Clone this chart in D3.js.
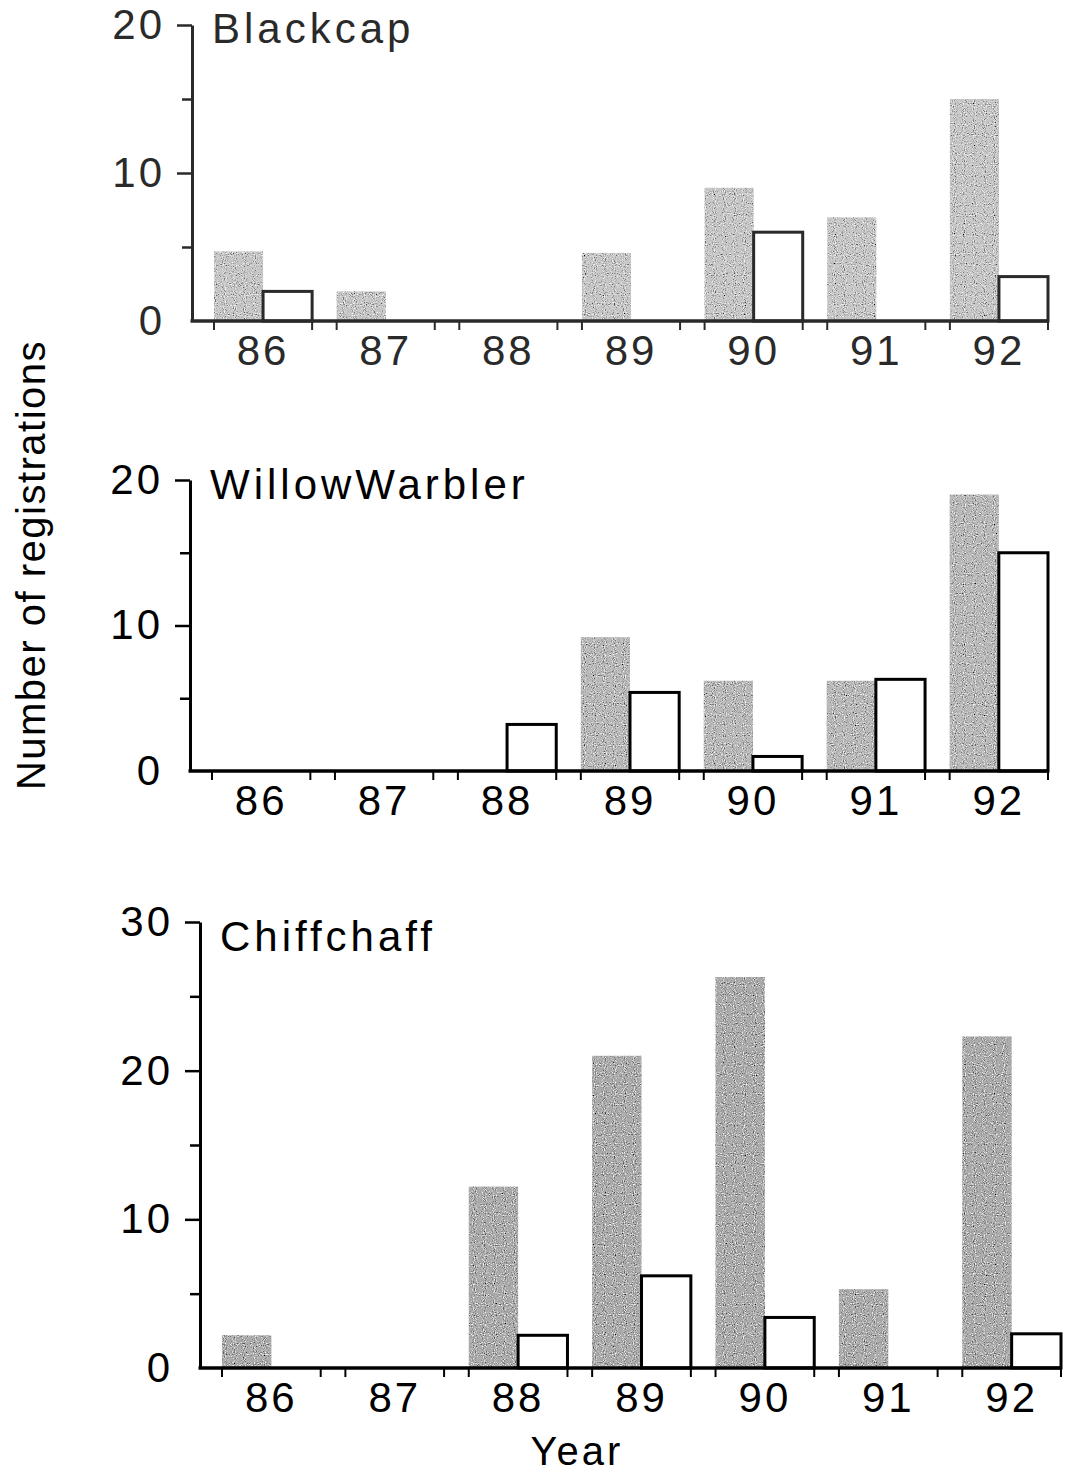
<!DOCTYPE html>
<html lang="en">
<head>
    <meta charset="UTF-8">
    <title>Number of registrations by year</title>
    <script src="https://d3js.org/d3.v7.min.js"></script>
    <style>
        body { margin: 0; background: #fff; }
        text { font-family: "Liberation Sans", Arial, sans-serif; }
    </style>
</head>
<body>
    <script>
        // years on the x axis
        const years = ["86", "87", "88", "89", "90", "91", "92"];

        // shaded bars and open bars, one value per year
        const blackcapShaded = [4.7, 2, 0, 4.6, 9, 7, 15];
        const blackcapOpen   = [2, 0, 0, 0, 6, 0, 3];
        const willowShaded   = [0, 0, 0, 9.2, 6.2, 6.2, 19];
        const willowOpen     = [0, 0, 3.2, 5.4, 1, 6.3, 15];
        const chiffShaded    = [2.2, 0, 12.2, 21, 26.3, 5.3, 22.3];
        const chiffOpen      = [0, 0, 2.2, 6.2, 3.4, 0, 2.3];

        // y tick labels
        const blackcapTicks = [0, 10, 20];
        const willowTicks   = [0, 10, 20];
        const chiffTicks    = [0, 10, 20, 30];

        const svg = d3.select("body").append("svg")
            .attr("width", 1065)
            .attr("height", 1484);

        // stippled grey like the printed halftone
        const filter = svg.append("defs").append("filter")
            .attr("id", "stipple")
            .attr("x", 0).attr("y", 0).attr("width", 1).attr("height", 1);
        filter.append("feTurbulence")
            .attr("type", "fractalNoise").attr("baseFrequency", 0.9)
            .attr("numOctaves", 1).attr("seed", 4).attr("result", "noise");
        filter.append("feColorMatrix").attr("in", "noise").attr("type", "matrix")
            .attr("values", "0 0 0 0 0  0 0 0 0 0  0 0 0 0 0  4 0 0 0 -2.2")
            .attr("result", "darkRaw");
        filter.append("feComposite").attr("in", "darkRaw").attr("in2", "SourceAlpha")
            .attr("operator", "in").attr("result", "dark");
        filter.append("feColorMatrix").attr("in", "noise").attr("type", "matrix")
            .attr("values", "0 0 0 0 1  0 0 0 0 1  0 0 0 0 1  -4 0 0 0 1.8")
            .attr("result", "lightRaw");
        filter.append("feComposite").attr("in", "lightRaw").attr("in2", "SourceAlpha")
            .attr("operator", "in").attr("result", "light");
        const merge = filter.append("feMerge");
        merge.append("feMergeNode").attr("in", "SourceGraphic");
        merge.append("feMergeNode").attr("in", "dark");
        merge.append("feMergeNode").attr("in", "light");

        const panels = [
            {title: "Blackcap", shaded: blackcapShaded, open: blackcapOpen, ticks: blackcapTicks,
             minor: [5, 15], axisX: 192, bandStart: 214, bandEnd: 1048, y0: 321, yTop: 25,
             fill: "#c6c6c6", ink: "#2a2a2a", titleY: 43},
            {title: "WillowWarbler", shaded: willowShaded, open: willowOpen, ticks: willowTicks,
             minor: [5, 15], axisX: 190, bandStart: 212, bandEnd: 1048, y0: 771, yTop: 480,
             fill: "#b8b8b8", ink: "#000", titleY: 499},
            {title: "Chiffchaff", shaded: chiffShaded, open: chiffOpen, ticks: chiffTicks,
             minor: [5, 15, 25], axisX: 200, bandStart: 222, bandEnd: 1061, y0: 1368, yTop: 922,
             fill: "#aaaaaa", ink: "#000", titleY: 951}
        ];

        panels.forEach(p => {
            const g = svg.append("g");
            const max = d3.max(p.ticks);

            const y = d3.scaleLinear().domain([0, max]).range([p.y0, p.yTop]);
            const x = d3.scaleBand().domain(years).range([p.bandStart, p.bandEnd])
                .paddingInner(0.2).paddingOuter(0);
            const sub = d3.scaleBand().domain(["shaded", "open"]).range([0, x.bandwidth()]);

            const rows = years.map((yr, i) => ({year: yr, shaded: p.shaded[i], open: p.open[i]}));

            // shaded bars
            g.selectAll("rect.shaded")
                .data(rows.filter(d => d.shaded > 0))
                .join("rect")
                .attr("class", "shaded")
                .attr("x", d => x(d.year) + sub("shaded"))
                .attr("y", d => y(d.shaded))
                .attr("width", sub.bandwidth())
                .attr("height", d => y(0) - y(d.shaded))
                .attr("fill", p.fill)
                .attr("filter", "url(#stipple)");

            // open bars
            g.selectAll("rect.open")
                .data(rows.filter(d => d.open > 0))
                .join("rect")
                .attr("class", "open")
                .attr("x", d => x(d.year) + sub("open"))
                .attr("y", d => y(d.open))
                .attr("width", sub.bandwidth())
                .attr("height", d => y(0) - y(d.open))
                .attr("fill", "#fff")
                .attr("stroke", p.ink)
                .attr("stroke-width", 3);

            // y axis
            const yAxis = g.append("g")
                .attr("transform", `translate(${p.axisX},0)`)
                .call(d3.axisLeft(y).tickValues(p.ticks).tickSize(15).tickSizeOuter(0)
                    .tickPadding(12).tickFormat(d3.format("d")));
            yAxis.select(".domain").attr("stroke", p.ink).attr("stroke-width", 3);
            yAxis.selectAll(".tick line").attr("stroke", p.ink).attr("stroke-width", 2.5)
                .filter(d => d === 0).remove();
            yAxis.selectAll(".tick text")
                .attr("fill", p.ink)
                .style("font-size", "42px")
                .style("letter-spacing", "3px");

            const minorAxis = g.append("g")
                .attr("transform", `translate(${p.axisX},0)`)
                .call(d3.axisLeft(y).tickValues(p.minor).tickSize(10).tickFormat(""));
            minorAxis.select(".domain").remove();
            minorAxis.selectAll(".tick line").attr("stroke", p.ink).attr("stroke-width", 2.5);

            // x axis: labels at the centre of each year, ticks at the edges of each pair
            const xAxis = g.append("g")
                .attr("transform", `translate(0,${p.y0})`)
                .call(d3.axisBottom(x).tickSize(0).tickPadding(14));
            xAxis.select(".domain").remove();
            xAxis.selectAll(".tick text")
                .attr("fill", p.ink)
                .style("font-size", "42px")
                .style("letter-spacing", "3px");

            g.append("line")
                .attr("x1", p.axisX - 1.5).attr("x2", p.bandEnd + 1)
                .attr("y1", p.y0).attr("y2", p.y0)
                .attr("stroke", p.ink).attr("stroke-width", 3.5);

            const edges = years.flatMap(yr => [x(yr), x(yr) + x.bandwidth()]);
            g.selectAll("line.edge")
                .data(edges)
                .join("line")
                .attr("class", "edge")
                .attr("x1", d => d).attr("x2", d => d)
                .attr("y1", p.y0).attr("y2", p.y0 + 9)
                .attr("stroke", p.ink).attr("stroke-width", 2);

            g.append("text")
                .attr("x", p.axisX + 20)
                .attr("y", p.titleY)
                .attr("fill", p.ink)
                .style("font-size", "42px")
                .style("letter-spacing", "4px")
                .text(p.title);
        });

        svg.append("text")
            .attr("transform", "translate(45,565) rotate(-90)")
            .attr("text-anchor", "middle")
            .style("font-size", "40px")
            .style("letter-spacing", "1.5px")
            .text("Number of registrations");

        svg.append("text")
            .attr("x", 577)
            .attr("y", 1465)
            .attr("text-anchor", "middle")
            .style("font-size", "40px")
            .style("letter-spacing", "3px")
            .text("Year");
    </script>
</body>
</html>
